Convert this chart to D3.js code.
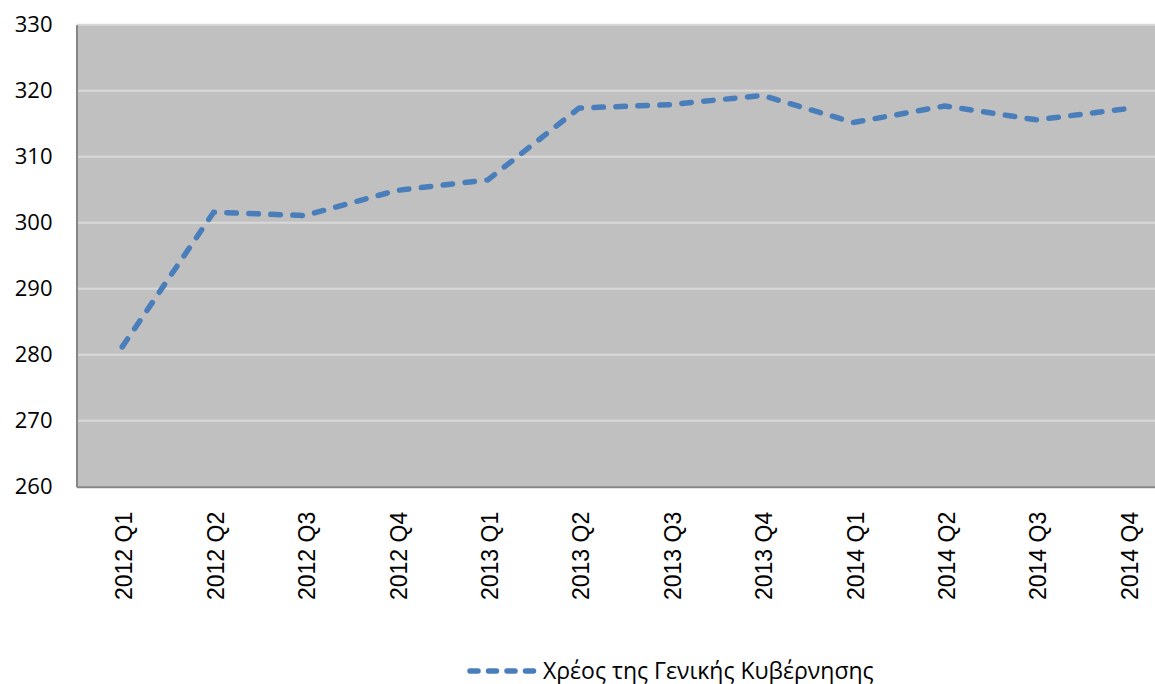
<!DOCTYPE html>
<html>
<head>
<meta charset="utf-8">
<script src="https://cdn.jsdelivr.net/npm/d3@7"></script>
<style>
  body { margin: 0; background: #fff; overflow: hidden; }
</style>
</head>
<body>
<svg id="chart" width="1155" height="684"></svg>
<script>
// quarters on the x axis
const quarters = ['2012 Q1', '2012 Q2', '2012 Q3', '2012 Q4',
                  '2013 Q1', '2013 Q2', '2013 Q3', '2013 Q4',
                  '2014 Q1', '2014 Q2', '2014 Q3', '2014 Q4'];
// general government debt (bn)
const debt = [281.2, 301.6, 301.1, 304.9, 306.5, 317.4, 317.9, 319.3, 315.2, 317.7, 315.6, 317.3];
const yTicks = [260, 270, 280, 290, 300, 310, 320, 330];
const seriesName = 'Χρέος της Γενικής Κυβέρνησης';

const marginLeft = 76.5, marginTop = 24.8;
const innerWidth = 1097, innerHeight = 462;
const lineColor = '#4a7ebb';

const svg = d3.select('#chart');
const g = svg.append('g').attr('transform', `translate(${marginLeft},${marginTop})`);

const x = d3.scaleBand().domain(quarters).range([0, innerWidth]);
const y = d3.scaleLinear().domain([260, 330]).range([innerHeight, 0]);

// plot background
g.append('rect')
  .attr('width', innerWidth)
  .attr('height', innerHeight)
  .attr('fill', '#c0c0c0');

// gridlines
g.append('g')
  .selectAll('line')
  .data(yTicks.slice(1))
  .join('line')
  .attr('x1', 0)
  .attr('x2', innerWidth)
  .attr('y1', d => y(d))
  .attr('y2', d => y(d))
  .attr('stroke', '#d9d9d9')
  .attr('stroke-width', 2);

// y axis
const yAxis = g.append('g')
  .call(d3.axisLeft(y).tickValues(yTicks).tickSize(0).tickPadding(24).tickFormat(d3.format('d')));
yAxis.select('.domain').attr('stroke', '#868686').attr('stroke-width', 2);
yAxis.selectAll('text')
  .attr('font-family', '"Open Sans", sans-serif')
  .attr('font-size', 22)
  .attr('fill', '#000');

// x axis
const xAxis = g.append('g')
  .attr('transform', `translate(0,${innerHeight})`)
  .call(d3.axisBottom(x).tickSize(0).tickPadding(0));
xAxis.select('.domain').attr('stroke', '#868686').attr('stroke-width', 2);
xAxis.selectAll('text')
  .attr('font-family', '"Liberation Sans", Arial, sans-serif')
  .attr('font-size', 23)
  .attr('fill', '#000')
  .attr('text-anchor', 'end')
  .attr('transform', 'translate(2,25) rotate(-90)')
  .attr('dy', '0.35em');

// the series line
const line = d3.line()
  .x((d, i) => x(quarters[i]) + x.bandwidth() / 2)
  .y(d => y(d));

g.append('path')
  .datum(debt)
  .attr('d', line)
  .attr('fill', 'none')
  .attr('stroke', lineColor)
  .attr('stroke-width', 5.5)
  .attr('stroke-linecap', 'round')
  .attr('stroke-linejoin', 'round')
  .attr('stroke-dasharray', '9.5 12.5');

// legend
const legend = svg.append('g').attr('transform', 'translate(467,671)');
legend.append('line')
  .attr('x1', 3).attr('x2', 69)
  .attr('stroke', lineColor)
  .attr('stroke-width', 5.5)
  .attr('stroke-linecap', 'round')
  .attr('stroke-dasharray', '8 10.5');
legend.append('text')
  .attr('x', 76)
  .attr('dy', '0.35em')
  .attr('font-family', '"Open Sans", sans-serif')
  .attr('font-size', 23)
  .attr('fill', '#000')
  .text(seriesName);
</script>
</body>
</html>
